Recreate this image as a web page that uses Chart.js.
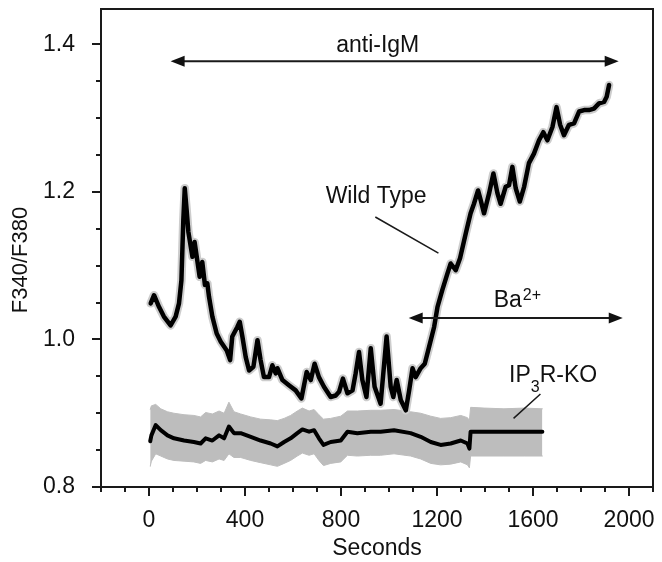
<!DOCTYPE html>
<html>
<head>
<meta charset="utf-8">
<script src="https://cdn.jsdelivr.net/npm/chart.js@4.4.0/dist/chart.umd.min.js"></script>
<style>
  html, body { margin: 0; padding: 0; background: #fff; }
  #ratioChart { display: block; }
</style>
</head>
<body>
<canvas id="ratioChart" width="662" height="562"></canvas>
<script>
// wild type trace (seconds, F340/F380)
const wtT = [7, 21, 42, 62, 90, 111, 125, 135, 143, 149, 157, 164, 174, 181, 190, 199, 211, 222, 233, 243,
  250, 264, 282, 299, 324, 338, 347, 368, 378, 389, 403, 417, 435, 452, 465, 479, 500, 514, 528, 535,
  556, 583, 611, 635, 657, 674, 690, 708, 729, 757, 778, 792, 808, 827, 848, 861, 875, 889, 906, 924,
  940, 965, 990, 1007, 1018, 1032, 1049, 1070, 1084, 1098, 1111, 1132, 1149, 1167, 1188, 1202, 1222, 1243, 1257, 1278,
  1296, 1320, 1340, 1354, 1371, 1382, 1396, 1417, 1435, 1452, 1465, 1486, 1500, 1514, 1528, 1545, 1563, 1583, 1604, 1625,
  1643, 1660, 1681, 1698, 1713, 1729, 1750, 1771, 1792, 1813, 1833, 1854, 1875, 1896, 1907, 1917];
const wtY = [1.049, 1.060, 1.044, 1.031, 1.019, 1.031, 1.049, 1.080, 1.162, 1.205, 1.175, 1.146, 1.126, 1.112, 1.132, 1.112, 1.085, 1.105, 1.074, 1.076,
  1.058, 1.031, 1.008, 0.997, 0.985, 0.972, 1.004, 1.017, 1.024, 1.004, 0.976, 0.958, 0.963, 0.999, 0.972, 0.949, 0.949, 0.965, 0.954, 0.961,
  0.945, 0.938, 0.931, 0.920, 0.956, 0.945, 0.967, 0.949, 0.936, 0.922, 0.924, 0.929, 0.947, 0.927, 0.931, 0.954, 0.983, 0.945, 0.922, 0.988,
  0.936, 0.913, 1.004, 0.936, 0.922, 0.945, 0.918, 0.904, 0.931, 0.961, 0.949, 0.961, 0.967, 0.990, 1.017, 1.044, 1.067, 1.089, 1.103, 1.094,
  1.110, 1.144, 1.171, 1.184, 1.202, 1.189, 1.171, 1.198, 1.225, 1.198, 1.184, 1.207, 1.209, 1.234, 1.205, 1.187, 1.207, 1.239, 1.252, 1.270,
  1.281, 1.270, 1.288, 1.315, 1.291, 1.277, 1.291, 1.293, 1.309, 1.311, 1.311, 1.313, 1.320, 1.322, 1.329, 1.345];

// IP3R-KO trace with its grey spread
const koT = [5, 10, 28, 49, 77, 104, 146, 187, 215, 236, 264, 292, 313, 333, 354, 382, 424, 465, 507, 535,
  563, 590, 618, 639, 667, 688, 708, 727, 757, 799, 827, 868, 924, 965, 1021, 1090, 1132, 1174, 1215, 1257,
  1299, 1327, 1335, 1340, 1396, 1479, 1563, 1639];
const koY = [0.862, 0.870, 0.884, 0.877, 0.870, 0.866, 0.863, 0.861, 0.859, 0.866, 0.863, 0.870, 0.866, 0.882, 0.873, 0.873, 0.868, 0.863, 0.859, 0.855,
  0.861, 0.866, 0.873, 0.878, 0.875, 0.877, 0.866, 0.857, 0.861, 0.863, 0.875, 0.873, 0.875, 0.875, 0.877, 0.873, 0.868, 0.861, 0.857, 0.859,
  0.863, 0.859, 0.852, 0.875, 0.875, 0.875, 0.875, 0.875];
const koHigh = [0.905, 0.910, 0.912, 0.906, 0.902, 0.900, 0.898, 0.897, 0.895, 0.901, 0.899, 0.903, 0.900, 0.915, 0.902, 0.899, 0.895, 0.892, 0.891, 0.890,
  0.893, 0.897, 0.903, 0.907, 0.903, 0.905, 0.898, 0.892, 0.893, 0.896, 0.903, 0.903, 0.904, 0.904, 0.905, 0.902, 0.900, 0.896, 0.893, 0.894,
  0.897, 0.894, 0.890, 0.908, 0.907, 0.906, 0.907, 0.906];
const koLow = [0.828, 0.835, 0.845, 0.842, 0.838, 0.836, 0.835, 0.834, 0.832, 0.836, 0.834, 0.838, 0.836, 0.845, 0.840, 0.840, 0.836, 0.833, 0.830, 0.828,
  0.832, 0.836, 0.842, 0.846, 0.843, 0.845, 0.836, 0.829, 0.832, 0.834, 0.843, 0.842, 0.843, 0.843, 0.845, 0.842, 0.838, 0.832, 0.830, 0.831,
  0.834, 0.830, 0.826, 0.842, 0.842, 0.842, 0.842, 0.842];

const xTickLabels = [0, 400, 800, 1200, 1600, 2000];
const yTickLabels = [0.8, 1.0, 1.2, 1.4];

const FONT = "'Liberation Sans', Arial, sans-serif";
const ink = '#111';

const pts = (t, v) => t.map((s, i) => ({ x: s, y: v[i] }));

function arrowHead(ctx, x, y, dir) {
  ctx.beginPath();
  ctx.moveTo(x, y);
  ctx.lineTo(x - dir * 14, y - 5.5);
  ctx.lineTo(x - dir * 14, y + 5.5);
  ctx.closePath();
  ctx.fill();
}

function doubleArrow(ctx, x, y, x0, x1, yv) {
  const a = x.getPixelForValue(x0), b = x.getPixelForValue(x1), py = y.getPixelForValue(yv);
  ctx.beginPath();
  ctx.moveTo(a + 6, py);
  ctx.lineTo(b - 6, py);
  ctx.stroke();
  arrowHead(ctx, a, py, -1);
  arrowHead(ctx, b, py, 1);
}

const overlay = {
  id: 'overlay',
  afterDraw(chart) {
    const { ctx, chartArea: a, scales: { x, y } } = chart;
    ctx.save();
    ctx.strokeStyle = '#1a1a1a';
    ctx.fillStyle = ink;
    ctx.lineWidth = 2;
    ctx.strokeRect(a.left, a.top, a.right - a.left, a.bottom - a.top);

    // outward tick marks, long at labelled values
    ctx.beginPath();
    x.ticks.forEach(t => {
      const px = Math.round(x.getPixelForValue(t.value));
      const len = xTickLabels.includes(t.value) ? 9 : 5;
      ctx.moveTo(px, a.bottom);
      ctx.lineTo(px, a.bottom + len);
    });
    y.ticks.forEach(t => {
      const k = t.value * 20;
      if (Math.abs(k - Math.round(k)) > 1e-6) return;
      const py = Math.round(y.getPixelForValue(t.value));
      const major = yTickLabels.some(v => Math.abs(v - t.value) < 1e-6);
      ctx.moveTo(a.left, py);
      ctx.lineTo(a.left - (major ? 9 : 5), py);
    });
    ctx.stroke();

    // y title
    ctx.save();
    ctx.translate(21, 260);
    ctx.rotate(-Math.PI / 2);
    ctx.font = '22px ' + FONT;
    ctx.textAlign = 'center';
    ctx.textBaseline = 'middle';
    ctx.fillText('F340/F380', 0, 0);
    ctx.restore();

    // treatment arrows
    doubleArrow(ctx, x, y, 90, 1957, 1.377);
    doubleArrow(ctx, x, y, 1082, 1974, 1.029);

    ctx.font = '23px ' + FONT;
    ctx.textBaseline = 'alphabetic';
    ctx.textAlign = 'center';
    ctx.fillText('anti-IgM', x.getPixelForValue(953), y.getPixelForValue(1.3896));

    ctx.textAlign = 'left';
    let bx = x.getPixelForValue(1436);
    ctx.fillText('Ba', bx, y.getPixelForValue(1.0438));
    bx += ctx.measureText('Ba').width + 1;
    ctx.font = '16px ' + FONT;
    ctx.fillText('2+', bx, y.getPixelForValue(1.0533));

    ctx.font = '23px ' + FONT;
    ctx.fillText('Wild Type', x.getPixelForValue(736), y.getPixelForValue(1.1848));

    let kx = x.getPixelForValue(1500);
    const kb = y.getPixelForValue(0.9421);
    ctx.fillText('IP', kx, kb);
    kx += ctx.measureText('IP').width;
    ctx.font = '16px ' + FONT;
    ctx.fillText('3', kx, y.getPixelForValue(0.929));
    kx += ctx.measureText('3').width;
    ctx.font = '23px ' + FONT;
    ctx.fillText('R-KO', kx, kb);

    // leader lines
    ctx.lineWidth = 1.5;
    ctx.beginPath();
    ctx.moveTo(x.getPixelForValue(943), y.getPixelForValue(1.166));
    ctx.lineTo(x.getPixelForValue(1206), y.getPixelForValue(1.117));
    ctx.moveTo(x.getPixelForValue(1631), y.getPixelForValue(0.926));
    ctx.lineTo(x.getPixelForValue(1519), y.getPixelForValue(0.893));
    ctx.stroke();
    ctx.restore();
  }
};

Chart.defaults.font.family = FONT;
Chart.defaults.color = ink;

const ctx = document.getElementById('ratioChart').getContext('2d');

const ratioChart = new Chart(ctx, {
  type: 'line',
  data: {
    datasets: [
      { data: pts(wtT, wtY), borderColor: '#000', borderWidth: 4.5 },
      { data: pts(wtT, wtY), borderColor: '#cdcdcd', borderWidth: 8.5 },
      { data: pts(koT, koY), borderColor: '#000', borderWidth: 4 },
      { data: pts(koT, koHigh), borderColor: '#bdbdbd', borderWidth: 1, backgroundColor: '#bdbdbd', fill: '+1' },
      { data: pts(koT, koLow), borderColor: '#bdbdbd', borderWidth: 1 }
    ]
  },
  options: {
    responsive: false,
    animation: false,
    devicePixelRatio: 1,
    layout: { padding: { top: 9, right: 9, left: 0, bottom: 0 } },
    elements: {
      point: { radius: 0 },
      line: { tension: 0, borderJoinStyle: 'round', borderCapStyle: 'round' }
    },
    plugins: {
      legend: { display: false },
      tooltip: { enabled: false }
    },
    scales: {
      x: {
        type: 'linear',
        min: -200,
        max: 2100,
        afterFit: s => { s.height = 75; s.paddingLeft = 0; s.paddingRight = 0; },
        grid: { display: false, drawTicks: false },
        border: { display: false },
        ticks: {
          stepSize: 100,
          autoSkip: false,
          maxRotation: 0,
          padding: 20,
          font: { size: 23 },
          color: ink,
          callback: v => xTickLabels.includes(v) ? String(v) : ''
        },
        title: { display: true, text: 'Seconds', font: { size: 23 }, color: ink, padding: 0 }
      },
      y: {
        type: 'linear',
        min: 0.8,
        max: 1.448,
        afterFit: s => { s.width = 101; s.paddingTop = 0; s.paddingBottom = 0; },
        grid: { display: false, drawTicks: false },
        border: { display: false },
        ticks: {
          stepSize: 0.05,
          autoSkip: false,
          padding: 26,
          font: { size: 23 },
          color: ink,
          callback: v => {
            const hit = yTickLabels.find(t => Math.abs(t - v) < 1e-6);
            return hit !== undefined ? hit.toFixed(1) : '';
          }
        }
      }
    }
  },
  plugins: [overlay]
});
</script>
</body>
</html>
